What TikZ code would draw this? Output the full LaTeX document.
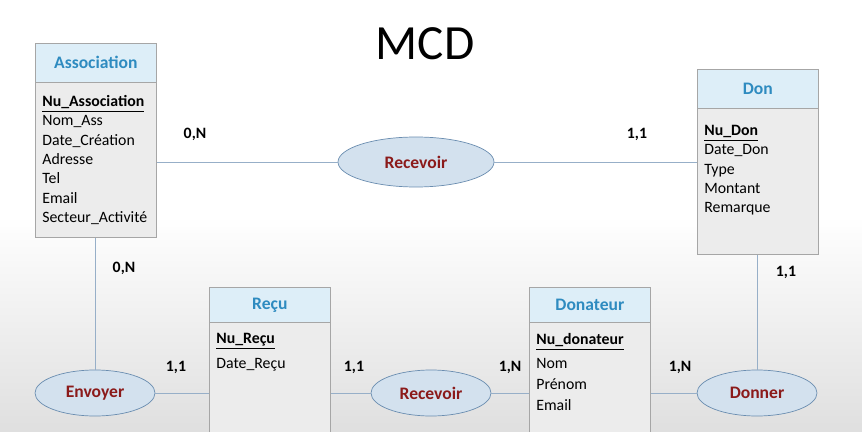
\documentclass[tikz,border=0pt]{standalone}
\usepackage{fontspec}
\setmainfont{Carlito}
\usetikzlibrary{positioning,shapes.geometric}
\definecolor{headblue}{HTML}{DDEEF8}
\definecolor{bodygray}{HTML}{ECECEC}
\definecolor{titleblue}{HTML}{2E8BC0}
\definecolor{ellfill}{HTML}{D3E1EE}
\definecolor{ellline}{HTML}{6A8DB0}
\definecolor{relred}{HTML}{8B1A1A}
\tikzset{
  body/.style={draw=gray!70,fill=bodygray,anchor=north west,inner sep=0pt},
  head/.style={draw=gray!70,fill=headblue,anchor=north west,inner sep=0pt,
    font=\fontsize{10}{12}\selectfont\bfseries,text=titleblue},
  attrs/.style={anchor=north west,align=left,inner sep=0pt,
    font=\fontsize{9}{11}\selectfont},
  rel/.style={ellipse,draw=ellline,fill=ellfill,inner sep=0pt,
    font=\fontsize{10}{12}\selectfont\bfseries,text=relred},
  card/.style={font=\fontsize{9}{11}\selectfont\bfseries},
  link/.style={draw=ellline!70,line width=0.5pt}
}
\begin{document}
\begin{tikzpicture}[x=0.02cm,y=-0.02cm]
\shade[top color=white,bottom color=gray!25,middle color=white] (0,0) rectangle (862,432);
\useasboundingbox (0,0) rectangle (862,432);
\node[font=\fontsize{28}{30}\selectfont] (title) at (425,44) {MCD};
% entites
\node[body,minimum width=121*0.02cm,minimum height=194*0.02cm] (assoc) at (35,43) {};
\node[head,minimum width=121*0.02cm,minimum height=39*0.02cm] (assocH) at (35,43) {Association};
\node[attrs] (assocA) at (42,95) {\textbf{\underline{Nu\_Association}}\\Nom\_Ass\\Date\_Création\\Adresse\\Tel\\Email\\Secteur\_Activité};
\node[body,minimum width=121*0.02cm,minimum height=185*0.02cm] (don) at (697,69) {};
\node[head,minimum width=121*0.02cm,minimum height=39*0.02cm] (donH) at (697,69) {Don};
\node[attrs] (donA) at (704,125) {\textbf{\underline{Nu\_Don}}\\Date\_Don\\Type\\Montant\\Remarque};
\node[body,minimum width=121*0.02cm,minimum height=146*0.02cm] (recu) at (209,287) {};
\node[head,minimum width=121*0.02cm,minimum height=35*0.02cm] (recuH) at (209,287) {Reçu};
\node[attrs] (recuA) at (216,333) {\textbf{\underline{Nu\_Reçu}}\\[3pt]Date\_Reçu};
\node[body,minimum width=121*0.02cm,minimum height=146*0.02cm] (donat) at (529,287) {};
\node[head,minimum width=121*0.02cm,minimum height=35*0.02cm] (donatH) at (529,287) {Donateur};
\node[attrs,font=\fontsize{9}{11.8}\selectfont] (donatA) at (536,333) {\textbf{\underline{Nu\_donateur}}\\[2pt]Nom\\Prénom\\Email};
% associations
\node[rel,minimum width=156*0.02cm,minimum height=50*0.02cm] (recv1) at (416,162) {Recevoir};
\node[rel,minimum width=120*0.02cm,minimum height=46*0.02cm] (envoy) at (95,393) {Envoyer};
\node[rel,minimum width=120*0.02cm,minimum height=46*0.02cm] (recv2) at (431,393) {Recevoir};
\node[rel,minimum width=120*0.02cm,minimum height=46*0.02cm] (donner) at (757,393) {Donner};
% liens
\draw[link] (recv1.west) -- (recv1.west -| assoc.east);
\draw[link] (recv1.east) -- (recv1.east -| don.west);
\draw[link] (envoy.north) -- (envoy.north |- assoc.south);
\draw[link] (envoy.east) -- (envoy.east -| recu.west);
\draw[link] (recv2.west) -- (recv2.west -| recu.east);
\draw[link] (recv2.east) -- (recv2.east -| donat.west);
\draw[link] (donner.west) -- (donner.west -| donat.east);
\draw[link] (donner.north) -- (donner.north |- don.south);
% cardinalites
\node[card] (c1) at (195,134) {0,N};
\node[card] (c2) at (637,134) {1,1};
\node[card] (c3) at (124,268) {0,N};
\node[card] (c4) at (786,272) {1,1};
\node[card] (c5) at (176,367) {1,1};
\node[card] (c6) at (354,367) {1,1};
\node[card] (c7) at (510,367) {1,N};
\node[card] (c8) at (680,367) {1,N};
\end{tikzpicture}
\end{document}
